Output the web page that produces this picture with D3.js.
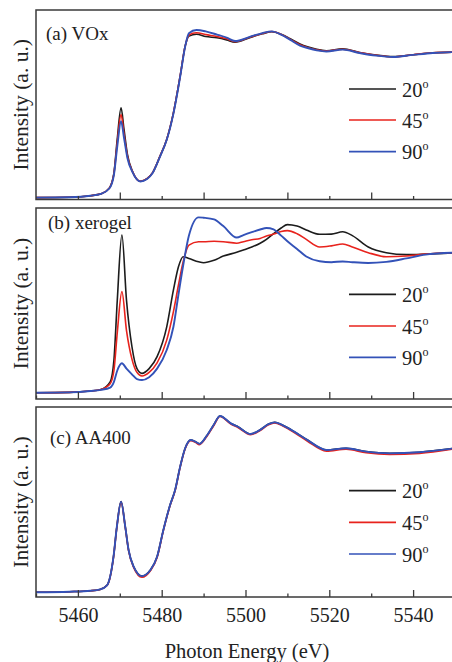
<!DOCTYPE html>
<html>
<head>
<meta charset="utf-8">
<script src="https://cdn.jsdelivr.net/npm/d3@7"></script>
<style>
  html, body { margin: 0; padding: 0; background: #fff; }
  svg { display: block; }
  text { font-family: "Liberation Serif", "Times New Roman", serif; fill: #222; }
</style>
</head>
<body>
<svg id="chart"></svg>
<script>
// photon energy (eV) and normalized intensity
var energyA = [5450, 5458, 5463, 5465.5, 5467.5, 5468.6, 5469.4, 5470.3, 5471, 5471.8, 5473, 5474.9, 5476.5, 5477.8, 5479.6, 5481.2, 5482.8, 5484.4, 5485.6, 5486.5, 5488.3, 5490.5, 5493.2, 5495.5, 5497.5, 5501, 5504, 5506.3, 5508.5, 5510.7, 5513, 5515, 5517, 5519.3, 5523.2, 5527.2, 5531.2, 5535.2, 5540, 5544.7, 5550];
var vox20 = [0.010, 0.012, 0.020, 0.030, 0.060, 0.140, 0.320, 0.483, 0.370, 0.240, 0.150, 0.096, 0.110, 0.140, 0.228, 0.316, 0.456, 0.649, 0.807, 0.860, 0.870, 0.858, 0.851, 0.840, 0.828, 0.852, 0.872, 0.883, 0.870, 0.846, 0.818, 0.802, 0.790, 0.783, 0.793, 0.774, 0.760, 0.752, 0.762, 0.772, 0.776];
var vox45 = [0.010, 0.012, 0.020, 0.030, 0.060, 0.135, 0.300, 0.447, 0.345, 0.230, 0.148, 0.096, 0.110, 0.140, 0.228, 0.316, 0.456, 0.649, 0.807, 0.866, 0.878, 0.868, 0.858, 0.846, 0.831, 0.854, 0.874, 0.884, 0.869, 0.843, 0.814, 0.799, 0.788, 0.781, 0.791, 0.773, 0.759, 0.751, 0.762, 0.772, 0.776];
var vox90 = [0.010, 0.012, 0.020, 0.030, 0.058, 0.130, 0.280, 0.412, 0.325, 0.220, 0.145, 0.095, 0.108, 0.138, 0.226, 0.314, 0.452, 0.645, 0.805, 0.875, 0.892, 0.885, 0.868, 0.852, 0.834, 0.856, 0.876, 0.885, 0.868, 0.840, 0.810, 0.796, 0.785, 0.779, 0.789, 0.771, 0.757, 0.750, 0.761, 0.771, 0.776];

var energyB = [5450, 5458, 5463, 5465.5, 5467.7, 5468.6, 5469.4, 5470.5, 5471.6, 5472.9, 5474.1, 5475.3, 5477, 5478.9, 5481.2, 5482.8, 5484, 5485.1, 5486.5, 5488.8, 5490, 5492.5, 5494.7, 5497.9, 5499.5, 5501.5, 5503.5, 5505, 5506.7, 5508.5, 5510, 5512.3, 5514.5, 5517.7, 5520.5, 5523.2, 5525.5, 5529.3, 5533.6, 5538.4, 5543, 5550];
var xero20 = [0.033, 0.035, 0.042, 0.050, 0.090, 0.205, 0.520, 0.863, 0.520, 0.275, 0.160, 0.135, 0.160, 0.223, 0.380, 0.574, 0.696, 0.749, 0.740, 0.722, 0.717, 0.730, 0.752, 0.772, 0.784, 0.800, 0.820, 0.840, 0.870, 0.900, 0.918, 0.910, 0.890, 0.867, 0.868, 0.880, 0.860, 0.800, 0.770, 0.760, 0.763, 0.770];
var xero45 = [0.033, 0.035, 0.042, 0.050, 0.080, 0.150, 0.350, 0.565, 0.360, 0.210, 0.140, 0.121, 0.140, 0.190, 0.310, 0.460, 0.600, 0.720, 0.810, 0.828, 0.828, 0.830, 0.828, 0.820, 0.828, 0.838, 0.845, 0.858, 0.868, 0.882, 0.886, 0.870, 0.840, 0.800, 0.806, 0.816, 0.800, 0.770, 0.749, 0.753, 0.763, 0.770];
var xero90 = [0.033, 0.035, 0.042, 0.048, 0.060, 0.090, 0.150, 0.188, 0.160, 0.130, 0.105, 0.100, 0.115, 0.160, 0.258, 0.380, 0.550, 0.700, 0.860, 0.956, 0.954, 0.945, 0.910, 0.850, 0.863, 0.878, 0.892, 0.900, 0.893, 0.860, 0.830, 0.790, 0.750, 0.725, 0.720, 0.724, 0.720, 0.716, 0.722, 0.740, 0.760, 0.770];

var energyC = [5450, 5458, 5463, 5465.3, 5467, 5468.5, 5469.3, 5470.3, 5471.3, 5472.1, 5473.3, 5475.3, 5477.3, 5478.9, 5480.4, 5482, 5483.2, 5484.4, 5485.6, 5486.9, 5488, 5489, 5490.8, 5492.4, 5493.9, 5496.5, 5498.2, 5501.2, 5503.5, 5505.5, 5507, 5508.8, 5512, 5514.8, 5519.3, 5524, 5528.8, 5534.4, 5541.5, 5550];
var aa20 = [0.025, 0.028, 0.033, 0.040, 0.063, 0.212, 0.370, 0.502, 0.370, 0.247, 0.160, 0.110, 0.142, 0.212, 0.353, 0.484, 0.563, 0.686, 0.783, 0.826, 0.818, 0.806, 0.850, 0.905, 0.953, 0.914, 0.896, 0.858, 0.880, 0.910, 0.919, 0.905, 0.865, 0.826, 0.774, 0.783, 0.765, 0.756, 0.762, 0.783];
var aa45 = [0.025, 0.028, 0.033, 0.040, 0.062, 0.210, 0.368, 0.500, 0.368, 0.244, 0.156, 0.104, 0.138, 0.208, 0.350, 0.481, 0.560, 0.683, 0.780, 0.823, 0.815, 0.802, 0.846, 0.901, 0.950, 0.910, 0.892, 0.854, 0.876, 0.906, 0.916, 0.901, 0.860, 0.820, 0.768, 0.778, 0.759, 0.750, 0.756, 0.780];
var aa90 = [0.025, 0.028, 0.033, 0.040, 0.063, 0.212, 0.370, 0.502, 0.370, 0.247, 0.160, 0.110, 0.142, 0.212, 0.353, 0.484, 0.563, 0.686, 0.783, 0.826, 0.818, 0.806, 0.850, 0.905, 0.953, 0.914, 0.896, 0.858, 0.880, 0.910, 0.919, 0.905, 0.865, 0.826, 0.774, 0.783, 0.765, 0.756, 0.762, 0.783];

var angles = ["20", "45", "90"];
var lineColors = ["#1c1c1c", "#e8231d", "#3352b8"];
var panelTitles = ["(a) VOx", "(b) xerogel", "(c) AA400"];
var tickLabels = [5460, 5480, 5500, 5520, 5540];

var width = 452, height = 662;
var svg = d3.select("#chart").attr("width", width).attr("height", height);
svg.append("rect").attr("width", width).attr("height", height).attr("fill", "#fff");

var x = d3.scaleLinear().domain([5450, 5550]).range([36, 455]);
var frameColor = "#3a3a3a";

// panel boxes (top, bottom) and where things sit inside them
var panels = [
  {top: 10, bottom: 199.5, energy: energyA, series: [vox20, vox45, vox90], majorOdd: true, titleY: 30, legendY: [79, 110, 141.7], titleX: 46},
  {top: 208, bottom: 399, energy: energyB, series: [xero20, xero45, xero90], majorOdd: false, titleY: 20.5, legendY: [86.3, 118, 149.3], titleX: 48},
  {top: 407, bottom: 597, energy: energyC, series: [aa20, aa45, aa90], majorOdd: false, titleY: 36.5, legendY: [83.7, 115.3, 147], titleX: 50}
];

panels.forEach(function(p, pi){
  var y = d3.scaleLinear().domain([0, 1]).range([p.bottom, p.bottom - 190]);
  var g = svg.append("g").attr("class", "panel");

  var clipId = "clip" + pi;
  svg.append("clipPath").attr("id", clipId)
     .append("rect").attr("x", 36).attr("y", p.top).attr("width", 420).attr("height", p.bottom - p.top);

  var line = d3.line()
      .x(function(d){ return x(d[0]); })
      .y(function(d){ return y(d[1]); })
      .curve(d3.curveMonotoneX);

  p.series.forEach(function(s, si){
    var pts = p.energy.map(function(e, i){ return [e, s[i]]; });
    g.append("path")
      .datum(pts)
      .attr("d", line)
      .attr("fill", "none")
      .attr("stroke", lineColors[si])
      .attr("stroke-width", si == 2 ? 1.9 : 1.6)
      .attr("stroke-linejoin", "round")
      .attr("clip-path", "url(#" + clipId + ")");
  });

  // inward ticks
  var majors = p.majorOdd ? [5470, 5490, 5510, 5530, 5550] : [5460, 5480, 5500, 5520, 5540];
  var minors = p.majorOdd ? [5460, 5480, 5500, 5520, 5540] : [5450, 5470, 5490, 5510, 5530];
  var axMajor = g.append("g").attr("transform", "translate(0," + p.bottom + ")")
     .call(d3.axisBottom(x).tickValues(majors).tickSize(-7).tickFormat(""));
  var axMinor = g.append("g").attr("transform", "translate(0," + p.bottom + ")")
     .call(d3.axisBottom(x).tickValues(minors).tickSize(-3.5).tickFormat(""));
  [axMajor, axMinor].forEach(function(a){
    a.select(".domain").remove();
    a.selectAll("line").attr("stroke", frameColor).attr("stroke-width", 1.3);
  });

  // frame
  g.append("rect")
   .attr("x", 36).attr("y", p.top)
   .attr("width", 430).attr("height", p.bottom - p.top)
   .attr("fill", "none").attr("stroke", frameColor).attr("stroke-width", 1.5);

  g.append("text")
   .attr("x", p.titleX).attr("y", p.top + p.titleY)
   .attr("font-size", 19)
   .text(panelTitles[pi]);

  g.append("text")
   .attr("transform", "translate(28," + ((p.top + p.bottom) / 2) + ") rotate(-90)")
   .attr("text-anchor", "middle")
   .attr("font-size", 21.5)
   .text("Intensity (a. u.)");

  // legend
  angles.forEach(function(a, ai){
    var ly = p.top + p.legendY[ai];
    g.append("line")
     .attr("x1", 349).attr("x2", 396).attr("y1", ly).attr("y2", ly)
     .attr("stroke", lineColors[ai]).attr("stroke-width", 1.7);
    var t = g.append("text")
     .attr("x", 402).attr("y", ly + 7.5)
     .attr("font-size", 20.5)
     .text(a);
    t.append("tspan").attr("font-size", 12).attr("dy", -9).text("o");
  });

  if (pi == 2) {
    var axLab = g.append("g").attr("transform", "translate(0," + p.bottom + ")")
       .call(d3.axisBottom(x).tickValues(tickLabels).tickSize(0).tickFormat(d3.format("d")));
    axLab.select(".domain").remove();
    axLab.selectAll("text")
       .attr("dy", null).attr("y", 25)
       .attr("font-size", 20)
       .attr("font-family", "\"Liberation Serif\", \"Times New Roman\", serif")
       .attr("fill", "#222");
  }
});

svg.append("text")
   .attr("x", 247).attr("y", 658)
   .attr("text-anchor", "middle")
   .attr("font-size", 20.5)
   .text("Photon Energy (eV)");
</script>
</body>
</html>
